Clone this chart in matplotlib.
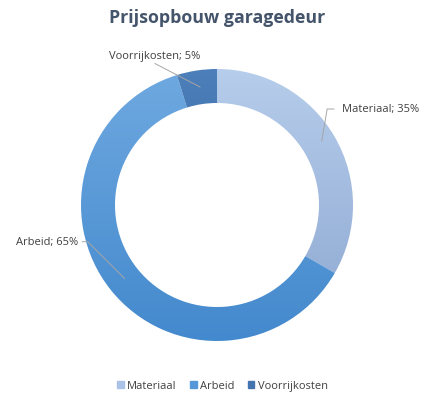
import numpy as np
import matplotlib.pyplot as plt
from matplotlib.colors import LinearSegmentedColormap

plt.rcParams['font.family'] = ['Open Sans', 'DejaVu Sans']

# gegevens
categories = ['Materiaal', 'Arbeid', 'Voorrijkosten']
values = [35, 65, 5]
labels = ['Materiaal; 35%', 'Arbeid; 65%', 'Voorrijkosten; 5%']
top_colors = ['#B6CDEB', '#6EA8E0', '#4D7FBA']
bottom_colors = ['#97B0D7', '#4389CD', '#3A6CA8']
legend_colors = ['#A9C2E6', '#5597D8', '#4474B0']

fig = plt.figure(figsize=(4.45, 4.06), dpi=100)
W, H = 445, 406
cx, cy, r = 217, 206, 136
ax = fig.add_axes([(cx - r) / W, (H - cy - r) / H, 2 * r / W, 2 * r / H])

wedges, _ = ax.pie(values, radius=1, startangle=90, counterclock=False,
                   colors=legend_colors, wedgeprops=dict(width=0.25, edgecolor='none', linewidth=0))

# gradient vulling per segment
for w, c1, c2 in zip(wedges, top_colors, bottom_colors):
    cmap = LinearSegmentedColormap.from_list('g', [c2, c1])
    grad = np.linspace(0, 1, 256).reshape(-1, 1)
    v = w.get_path().vertices
    ext = [v[:, 0].min(), v[:, 0].max(), v[:, 1].min(), v[:, 1].max()]
    im = ax.imshow(grad, cmap=cmap, extent=ext, origin='lower', aspect='auto', zorder=2)
    im.set_clip_path(w)
    w.set_alpha(0)

ax.set_xlim(-1, 1)
ax.set_ylim(-1, 1)
ax.set_aspect('equal')
ax.axis('off')

# labels met lijntjes
lc = '#A6A6A6'
tc = '#404040'
ax.plot([0.86, 0.81, 0.77], [0.706, 0.706, 0.47], color=lc, lw=0.7, zorder=3, clip_on=False)
ax.text(0.92, 0.706, labels[0], fontsize=8, color=tc, ha='left', va='center')
ax.plot([-0.99, -0.95, -0.68], [-0.27, -0.27, -0.54], color=lc, lw=0.7, zorder=3, clip_on=False)
ax.text(-1.02, -0.27, labels[1], fontsize=8, color=tc, ha='right', va='center')
ax.plot([-0.456, -0.125], [1.04, 0.868], color=lc, lw=0.7, zorder=3, clip_on=False)
ax.text(-0.46, 1.10, labels[2], fontsize=8, color=tc, ha='center', va='center')

fig.text(0.488, 1 - 18 / H, 'Prijsopbouw garagedeur', ha='center', va='center',
         fontsize=12.8, fontweight='bold', color='#44546A')

handles = [plt.Rectangle((0, 0), 1, 1, color=c) for c in legend_colors]
fig.legend(handles, categories, loc='center', bbox_to_anchor=(0.5, 1 - 387 / H), ncol=3,
           frameon=False, fontsize=8, handlelength=0.6, handleheight=0.6,
           handletextpad=0.3, columnspacing=1.2, labelcolor=tc)

fig.savefig('out.png', dpi=100, facecolor='white')
